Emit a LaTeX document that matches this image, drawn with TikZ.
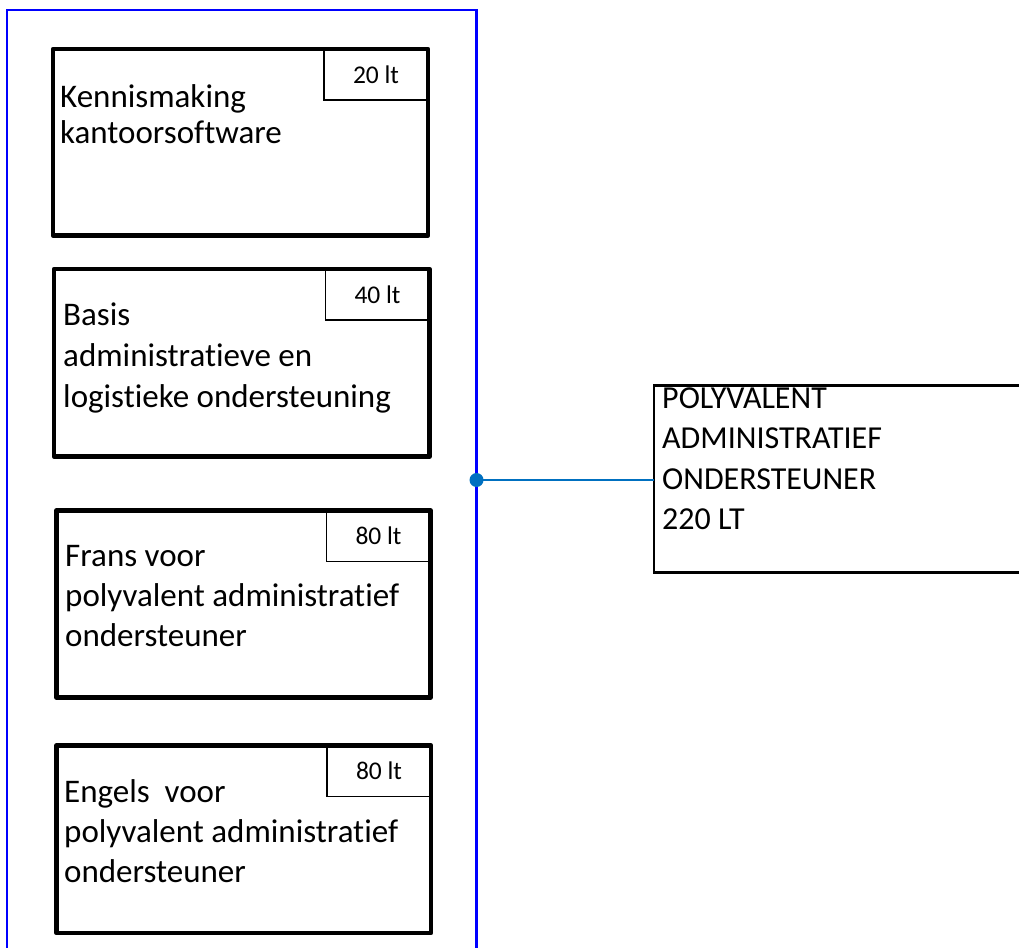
\documentclass[tikz,border=0pt]{standalone}
\usepackage{fontspec}
\setmainfont{Carlito}[Ligatures=NoCommon]
\newcommand\myBody{\fontsize{33}{40}\selectfont}
\newcommand\myLab{\fontsize{25.5}{30}\selectfont}
\newcommand\myBig{\fontsize{32}{40}\selectfont}
\definecolor{framblue}{HTML}{0000FF}
\definecolor{connblue}{HTML}{0070C0}
\tikzset{
  modbox/.style={draw=black, line width=4.5pt, line join=round, outer sep=0pt, inner sep=0pt, anchor=north west},
  labbox/.style={draw=black, line width=1.6pt, outer sep=0pt, inner sep=0pt, anchor=north east,
                 minimum width=104pt, minimum height=51pt, font=\myLab},
  bodytxt/.style={anchor=base west, inner sep=0pt, font=\myBody},
  bigtxt/.style={anchor=base west, inner sep=0pt, font=\myBig},
  bigbox/.style={draw=black, line width=2.8pt, outer sep=0pt, inner sep=0pt, anchor=north west},
  frameline/.style={draw=framblue, line width=2.4pt},
  connline/.style={draw=connblue, line width=2.4pt}
}
\begin{document}
\begin{tikzpicture}[x=1pt,y=-1pt]
\useasboundingbox (0,0) rectangle (1019,947);
% blue frame
\draw[frameline] (7,980) -- (7,10) -- (476.5,10) -- (476.5,980);
% module boxes
\node[modbox, minimum width=375pt, minimum height=186.5pt] (b1) at (53,49) {};
\node[modbox, minimum width=375.5pt, minimum height=187.5pt] (b2) at (54,269) {};
\node[modbox, minimum width=374pt, minimum height=187pt] (b3) at (56.5,510.5) {};
\node[modbox, minimum width=374.5pt, minimum height=187.5pt] (b4) at (56.5,745.5) {};
% hour labels
\node[labbox] (l1) at (b1.north east) {20 lt};
\node[labbox] (l2) at (b2.north east) {40 lt};
\node[labbox] (l3) at (b3.north east) {80 lt};
\node[labbox] (l4) at (b4.north east) {80 lt};
% texts
\node[bodytxt] (t1a) at (60,108) {Kennismaking};
\node[bodytxt] (t1b) at (60,143) {kantoorsoftware};
\node[bodytxt] (t2a) at (63,325) {Basis};
\node[bodytxt] (t2b) at (63,366) {administratieve en};
\node[bodytxt] (t2c) at (63,407) {logistieke ondersteuning};
\node[bodytxt] (t3a) at (65,566) {Frans voor};
\node[bodytxt] (t3b) at (65,606) {polyvalent administratief};
\node[bodytxt] (t3c) at (65,646) {ondersteuner};
\node[bodytxt] (t4a) at (64,802) {Engels\ \ voor};
\node[bodytxt] (t4b) at (64,842) {polyvalent administratief};
\node[bodytxt] (t4c) at (64,882) {ondersteuner};
% big box
\node[bigbox, minimum width=380pt, minimum height=187pt] (big) at (654,385.5) {};
\node[bigtxt] (g1) at (662,408) {POLYVALENT};
\node[bigtxt] (g2) at (662,448) {ADMINISTRATIEF};
\node[bigtxt] (g3) at (662,489) {ONDERSTEUNER};
\node[bigtxt] (g4) at (662,529) {220 LT};
% connector
\coordinate (dot) at (476.5,480);
\draw[connline] (dot) -- (big.west |- dot);
\fill[connblue] (dot) circle (7pt);
\end{tikzpicture}
\end{document}
